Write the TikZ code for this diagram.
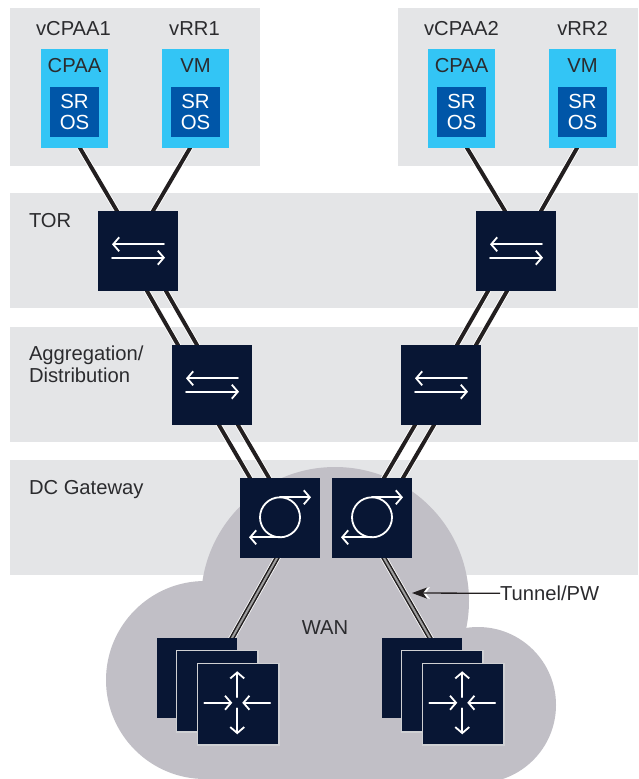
\documentclass[tikz,border=0pt]{standalone}
\usepackage{fontspec}
\setmainfont{Liberation Sans}
\usetikzlibrary{arrows.meta}
\definecolor{panel}{HTML}{E4E5E7}
\definecolor{cloudc}{HTML}{C1BFC6}
\definecolor{navy}{HTML}{081634}
\definecolor{cyanb}{HTML}{33C5F5}
\definecolor{blueb}{HTML}{0056A8}
\definecolor{ink}{HTML}{2B2B2E}
\definecolor{wire}{HTML}{231F20}
\definecolor{haloc}{HTML}{CFD0D3}
\pgfdeclarelayer{panels}
\pgfdeclarelayer{wires}
\pgfsetlayers{panels,wires,main}
\tikzset{
  txt/.style={inner sep=0pt,outer sep=0pt,text=ink,font=\fontsize{20.2}{22}\selectfont},
  devbox/.style={rectangle,fill=navy,minimum size=80pt,inner sep=0pt,outer sep=0pt},
  haloed/.style={devbox,minimum size=81.5pt,draw=haloc,line width=1.5pt},
  vmbox/.style={rectangle,fill=cyanb,minimum width=67pt,minimum height=99pt,inner sep=0pt,outer sep=0pt},
  osbox/.style={rectangle,fill=blueb,minimum width=49pt,minimum height=50pt,inner sep=0pt,outer sep=0pt,
     text=white,align=center,font=\fontsize{20.4}{20.9}\selectfont},
  link/.style={draw=wire,line width=3.9pt,shorten <=-2pt,shorten >=-2pt,
     preaction={draw=white,line width=5.6pt,xshift=0.7pt}},
  tunnel/.style={draw=wire,line width=5pt,shorten <=-2pt,shorten >=-2pt,
     preaction={draw=white,line width=6.6pt},
     postaction={draw=white!62!black,line width=2pt}},
  icon/.style={draw=white,line width=1.8pt,line cap=round},
  barb/.style={-{Straight Barb[length=6pt,width=14pt,line width=1.8pt]}},
}
\newcommand{\swIcon}[1]{\begin{scope}[shift={(#1.north west)}]
  \draw[icon,barb] (66,33.3) -- (14,33.3);
  \draw[icon,barb] (14,46.7) -- (67,46.7);
\end{scope}}
\newcommand{\gwIcon}[1]{\begin{scope}[shift={(#1.north west)}]
  \draw[icon] (40,39.3) circle (20);
  \draw[icon,barb] (40,19.3) -- (71,19.3);
  \draw[icon,barb] (40,59.3) -- (9,59.3);
\end{scope}}
\newcommand{\rtIcon}[1]{\begin{scope}[shift={(#1.north west)}]
  \draw[icon,barb] (40,34) -- (40,8);
  \draw[icon,barb] (40,45) -- (40,71);
  \draw[icon,barb] (7,39.5) -- (35,39.5);
  \draw[icon,barb] (73,39.5) -- (45,39.5);
\end{scope}}
\begin{document}
\begin{tikzpicture}[x=1pt,y=-1pt]
\useasboundingbox (0,0) rectangle (638,779);
\begin{pgfonlayer}{panels}
  \fill[white] (0,0) rectangle (638,779);
  \fill[panel] (10,8) rectangle (260,166);
  \fill[panel] (398,8) rectangle (638,166);
  \fill[panel] (10,193) rectangle (638,308);
  \fill[panel] (10,327) rectangle (638,442);
  \fill[panel] (10,460) rectangle (638,575);
  \begin{scope}
    \clip (0,0) rectangle (638,779);
    \fill[cloudc] (335,601) circle (134);
    \fill[cloudc] (205,680) circle (99);
    \fill[cloudc] (478,705) circle (78);
    \fill[cloudc] (205,628) rectangle (478,779);
  \end{scope}
\end{pgfonlayer}

% virtual machines
\node[vmbox] (cpaa1) at (74.5,98.5) {};
\node[vmbox] (vm1) at (195.5,98.5) {};
\node[vmbox] (cpaa2) at (461.5,98.5) {};
\node[vmbox] (vm2) at (582.5,98.5) {};
\node[osbox] (os1) at (74.5,112) {SR\\OS};
\node[osbox] (os2) at (195.5,112) {SR\\OS};
\node[osbox] (os3) at (461.5,112) {SR\\OS};
\node[osbox] (os4) at (582.5,112) {SR\\OS};
\node[txt,anchor=base] (l1) at (73.5,35) {vCPAA1};
\node[txt,anchor=base] (l2) at (194.5,35) {vRR1};
\node[txt,anchor=base] (l3) at (461.5,35) {vCPAA2};
\node[txt,anchor=base] (l4) at (582.5,35) {vRR2};
\node[txt,anchor=base] (t1) at (74.5,72.7) {CPAA};
\node[txt,anchor=base] (t2) at (195.5,72.7) {VM};
\node[txt,anchor=base] (t3) at (461.5,72.7) {CPAA};
\node[txt,anchor=base] (t4) at (582.5,72.7) {VM};

% row labels
\node[txt,anchor=base west] (ltor) at (29,227.3) {TOR};
\node[txt,anchor=base west] (lagg) at (29,360.7) {Aggregation/};
\node[txt,anchor=base west] (ldist) at (29,382.7) {Distribution};
\node[txt,anchor=base west] (ldc) at (29,494.7) {DC Gateway};
\node[txt,anchor=base] (lwan) at (325,634.7) {WAN};
\node[txt,anchor=base west] (ltun) at (500,600.5) {Tunnel/PW};

% switches and gateways
\node[devbox] (tor1) at (138,251) {};
\node[devbox] (tor2) at (516,251) {};
\node[devbox] (agg1) at (212,385) {};
\node[devbox] (agg2) at (441,385) {};
\node[devbox] (gw1) at (280,518) {};
\node[devbox] (gw2) at (372,518) {};
\swIcon{tor1}\swIcon{tor2}\swIcon{agg1}\swIcon{agg2}
\gwIcon{gw1}\gwIcon{gw2}

% routers
\node[devbox] (ra1) at (197,678) {};
\node[haloed] (ra2) at (217,691) {};
\node[haloed] (ra3) at (238,704) {};
\node[devbox] (rb1) at (422,678) {};
\node[haloed] (rb2) at (442,691) {};
\node[haloed] (rb3) at (463,704) {};
\rtIcon{ra3}\rtIcon{rb3}

\coordinate (tiptun) at (412,593);
\coordinate (halostart) at (430,593);

\begin{pgfonlayer}{wires}
  \draw[link] ([xshift=5.5pt]cpaa1.south) -- ([xshift=-21pt]tor1.north);
  \draw[link] ([xshift=-5.5pt]vm1.south) -- ([xshift=15pt]tor1.north);
  \draw[link] ([xshift=5.5pt]cpaa2.south) -- ([xshift=-11pt]tor2.north);
  \draw[link] ([xshift=-5.5pt]vm2.south) -- ([xshift=25pt]tor2.north);

  \draw[link] ([xshift=9pt]tor1.south) -- ([xshift=-34pt]agg1.north);
  \draw[link] ([xshift=28pt]tor1.south) -- ([xshift=-15pt]agg1.north);
  \draw[link] ([xshift=-28pt]tor2.south) -- ([xshift=16pt]agg2.north);
  \draw[link] ([xshift=-9pt]tor2.south) -- ([xshift=35pt]agg2.north);

  \draw[link] ([xshift=7pt]agg1.south) -- ([xshift=-30pt]gw1.north);
  \draw[link] ([xshift=26pt]agg1.south) -- ([xshift=-11pt]gw1.north);
  \draw[link] ([xshift=-26pt]agg2.south) -- ([xshift=12pt]gw2.north);
  \draw[link] ([xshift=-7pt]agg2.south) -- ([xshift=31pt]gw2.north);

  \draw[tunnel] ([xshift=-3pt]gw1.south) -- ([xshift=35pt]ra1.north);
  \draw[tunnel] ([xshift=12pt]gw2.south) -- ([xshift=8pt]rb1.north);
\end{pgfonlayer}
\fill[white] (414,593) -- (430,587) -- (425.5,593) -- (430,599) -- cycle;
\draw[draw=wire,line width=1.3pt,-{Stealth[length=15pt,width=11pt,inset=4pt]}] (ltun.west) -- (tiptun);
\end{tikzpicture}
\end{document}
